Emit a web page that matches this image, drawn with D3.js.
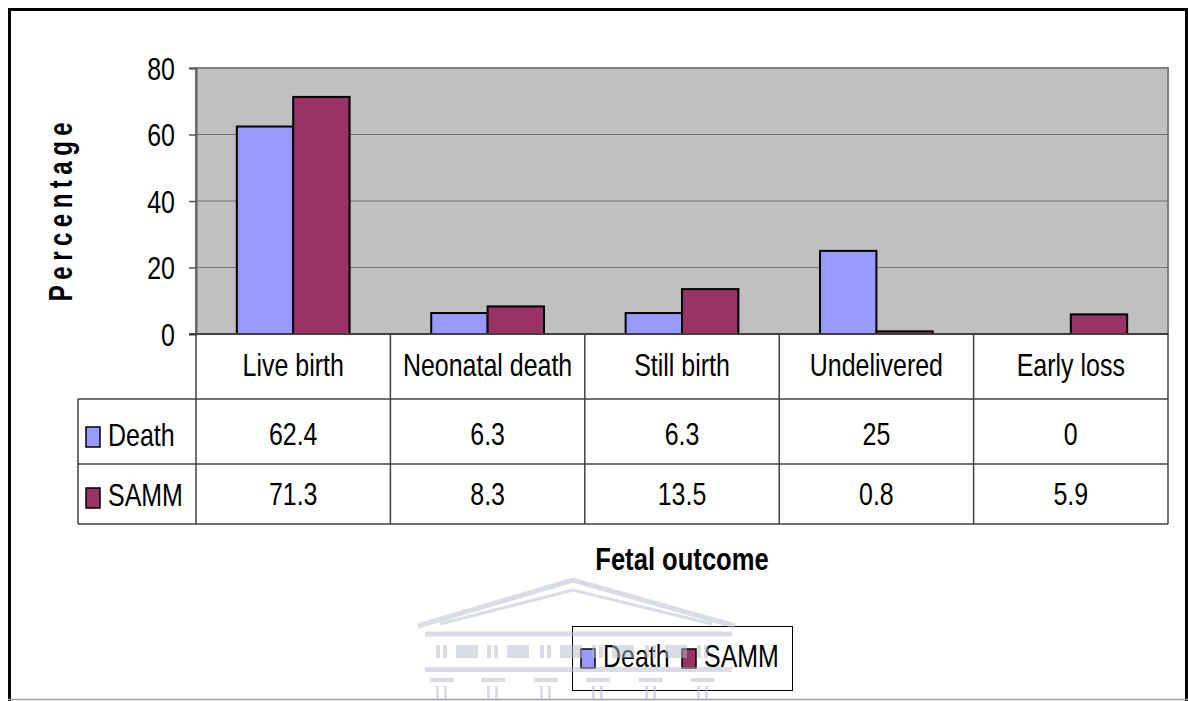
<!DOCTYPE html>
<html>
<head>
<meta charset="utf-8">
<script src="https://cdn.jsdelivr.net/npm/d3@7"></script>
<style>
  body { margin: 0; background: #fff; }
  svg text { font-family: "Liberation Sans", Arial, sans-serif; }
</style>
</head>
<body>
<div id="chart"></div>
<script>
const categories = ["Live birth", "Neonatal death", "Still birth", "Undelivered", "Early loss"];
const seriesNames = ["Death", "SAMM"];
const deathValues = [62.4, 6.3, 6.3, 25, 0];
const sammValues = [71.3, 8.3, 13.5, 0.8, 5.9];
const deathLabels = ["62.4", "6.3", "6.3", "25", "0"];
const sammLabels = ["71.3", "8.3", "13.5", "0.8", "5.9"];
const yTicks = [0, 20, 40, 60, 80];
const colors = { Death: "#9999FF", SAMM: "#993366" };

const W = 1188, H = 701;
const plot = { left: 196, right: 1168, top: 68, bottom: 334 };
const rowH = [334, 399, 464, 524]; // table row edges
const tableLeft = 78;
const NARROW = 0.78; // squeeze to mimic Arial Narrow
const FS = 32;

const svg = d3.select("#chart").append("svg")
  .attr("width", W).attr("height", H);

// narrow text helper
function ntext(g, x, y, str, opts = {}) {
  return g.append("text")
    .attr("transform", `translate(${x},${y}) scale(${opts.sx || NARROW},1)`)
    .attr("text-anchor", opts.anchor || "start")
    .attr("font-size", opts.size || FS)
    .attr("font-weight", opts.weight || "normal")
    .attr("fill", "#000")
    .text(str);
}

// outer frame
svg.append("rect").attr("x", 0).attr("y", 0).attr("width", W).attr("height", H).attr("fill", "#fff");
svg.append("path")
  .attr("d", `M9.5,${H} V9.5 H1186.5 V${H}`)
  .attr("fill", "none").attr("stroke", "#000").attr("stroke-width", 3);
svg.append("line").attr("x1", 8).attr("x2", 1188).attr("y1", 699.5).attr("y2", 699.5)
  .attr("stroke", "#a0a0a0").attr("stroke-width", 1.5);

const x = d3.scaleBand().domain(categories)
  .range([plot.left, plot.right]).paddingInner(0.42).paddingOuter(0.21);
const xSeries = d3.scaleBand().domain(seriesNames).range([0, x.bandwidth()]);
const y = d3.scaleLinear().domain([0, 80]).range([plot.bottom, plot.top]);

// plot area
svg.append("rect")
  .attr("x", plot.left).attr("y", plot.top)
  .attr("width", plot.right - plot.left).attr("height", plot.bottom - plot.top)
  .attr("fill", "#C0C0C0").attr("stroke", "#808080").attr("stroke-width", 2);

// gridlines
svg.append("g").selectAll("line")
  .data(yTicks.filter(d => d > 0 && d < 80)).join("line")
  .attr("x1", plot.left).attr("x2", plot.right)
  .attr("y1", d => y(d)).attr("y2", d => y(d))
  .attr("stroke", "#707070").attr("stroke-width", 1);

// y axis
const yAxis = svg.append("g")
  .attr("transform", `translate(${plot.left},0)`)
  .call(d3.axisLeft(y).tickValues(yTicks).tickSize(7).tickPadding(0));
yAxis.select(".domain").attr("stroke", "#606060").attr("stroke-width", 2);
yAxis.selectAll(".tick line").attr("stroke", "#555").attr("stroke-width", 1.5);
yAxis.selectAll(".tick text")
  .attr("x", 0).attr("dy", "0.35em")
  .attr("transform", `translate(-21,0) scale(${NARROW},1)`)
  .attr("font-size", FS).attr("fill", "#000")
  .style("font-family", '"Liberation Sans", Arial, sans-serif');

// bars
const barData = [];
categories.forEach((c, i) => {
  barData.push({ cat: c, series: "Death", value: deathValues[i] });
  barData.push({ cat: c, series: "SAMM", value: sammValues[i] });
});
svg.append("g").selectAll("rect")
  .data(barData.filter(d => d.value > 0)).join("rect")
  .attr("x", d => x(d.cat) + xSeries(d.series))
  .attr("y", d => y(d.value))
  .attr("width", xSeries.bandwidth())
  .attr("height", d => y(0) - y(d.value))
  .attr("fill", d => colors[d.series])
  .attr("stroke", "#000").attr("stroke-width", 2);

// x axis line (bottom of plot)
svg.append("line")
  .attr("x1", plot.left - 7).attr("x2", plot.right)
  .attr("y1", plot.bottom).attr("y2", plot.bottom)
  .attr("stroke", "#404040").attr("stroke-width", 2);

// data table
const tbl = svg.append("g").attr("stroke", "#404040").attr("stroke-width", 1.5);
[rowH[1], rowH[2], rowH[3]].forEach(yy => {
  tbl.append("line").attr("x1", tableLeft).attr("x2", plot.right)
    .attr("y1", yy).attr("y2", yy);
});
tbl.append("line").attr("x1", tableLeft).attr("x2", tableLeft)
  .attr("y1", rowH[1]).attr("y2", rowH[3]);
const colEdges = categories.map(c => x(c) - x.step() * x.paddingInner() / 2).concat([plot.right]);
colEdges.forEach(xx => {
  tbl.append("line").attr("x1", xx).attr("x2", xx)
    .attr("y1", rowH[0]).attr("y2", rowH[3]);
});

const colCenter = c => x(c) + x.bandwidth() / 2;
const tg = svg.append("g");

categories.forEach(c => ntext(tg, colCenter(c), 376, c, { anchor: "middle" }));

const rows = [
  { name: "Death", labels: deathLabels, yText: 445, keyY: 427 },
  { name: "SAMM", labels: sammLabels, yText: 505, keyY: 488 }
];
rows.forEach(r => {
  categories.forEach((c, i) => ntext(tg, colCenter(c), r.yText, r.labels[i], { anchor: "middle" }));
  svg.append("rect")
    .attr("x", 86).attr("y", r.keyY).attr("width", 14).attr("height", 20)
    .attr("fill", colors[r.name]).attr("stroke", "#000").attr("stroke-width", 1.5);
  ntext(tg, 108, r.yText + 1, r.name);
});

// axis titles
svg.append("text")
  .attr("transform", `translate(72,209) rotate(-90) scale(1,1.35)`)
  .attr("text-anchor", "middle").attr("font-size", 24).attr("font-weight", "bold")
  .attr("letter-spacing", 5.5)
  .text("Percentage");

ntext(svg, 682, 570, "Fetal outcome", { anchor: "middle", weight: "bold", sx: 0.8 });

// legend
const lg = svg.append("g");
lg.append("rect").attr("x", 572.5).attr("y", 626.5).attr("width", 220).attr("height", 64)
  .attr("fill", "#fff").attr("stroke", "#000").attr("stroke-width", 1);
const legX = [581, 682];
seriesNames.forEach((s, i) => {
  lg.append("rect").attr("x", legX[i]).attr("y", 649).attr("width", 14).attr("height", 19)
    .attr("fill", colors[s]).attr("stroke", "#000").attr("stroke-width", 1.5);
  ntext(lg, legX[i] + 22, 667, s);
});

// faint watermark (building logo)
const wm = svg.append("g").attr("fill", "none").attr("stroke", "#b8bccc").attr("opacity", 0.5);
wm.append("path").attr("d", "M418,626 L573,580 L735,626").attr("stroke-width", 5);
wm.append("path").attr("d", "M440,624 L573,590 L712,624").attr("stroke-width", 3);
wm.append("line").attr("x1", 425).attr("x2", 732).attr("y1", 634).attr("y2", 634).attr("stroke-width", 5);
const wmf = svg.append("g").attr("fill", "#b8bccc").attr("opacity", 0.5);
[436, 487, 540, 592, 645, 697].forEach((cx, i) => {
  wmf.append("rect").attr("x", cx).attr("y", 645).attr("width", 4).attr("height", 13);
  wmf.append("rect").attr("x", cx + 7).attr("y", 645).attr("width", 4).attr("height", 13);
  if (i < 5) wmf.append("rect").attr("x", cx + 20).attr("y", 645).attr("width", 22).attr("height", 13);
  wmf.append("rect").attr("x", cx - 6).attr("y", 678).attr("width", 24).attr("height", 4);
  wmf.append("rect").attr("x", cx).attr("y", 686).attr("width", 3).attr("height", 15);
  wmf.append("rect").attr("x", cx + 8).attr("y", 686).attr("width", 3).attr("height", 15);
});
wmf.append("rect").attr("x", 425).attr("y", 667).attr("width", 307).attr("height", 5);
</script>
</body>
</html>
